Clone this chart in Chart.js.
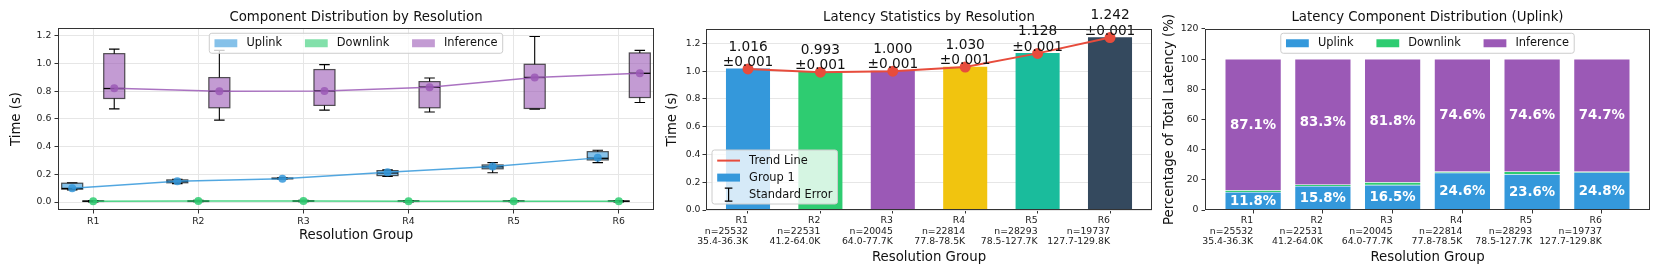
<!DOCTYPE html>
<html><head><meta charset="utf-8">
<script src="https://cdn.jsdelivr.net/npm/chart.js@4.4.1/dist/chart.umd.min.js"></script>
<style>
html,body{margin:0;padding:0;background:#fff;width:1661px;height:267px;overflow:hidden;}
canvas{position:absolute;top:0;}
</style></head><body>
<canvas id="c1" width="660" height="267" style="left:0px"></canvas>
<canvas id="c2" width="500" height="267" style="left:660px"></canvas>
<canvas id="c3" width="501" height="267" style="left:1160px"></canvas>
<script>
// ---------- DATA ----------
const categories = ['R1','R2','R3','R4','R5','R6'];
const sampleCounts = [25532,22531,20045,22814,28293,19737];
const resolutionRanges = ['35.4-36.3K','41.2-64.0K','64.0-77.7K','77.8-78.5K','78.5-127.7K','127.7-129.8K'];

// Panel 1: component distributions (seconds)
const uplinkLow    = [0.088,0.133,0.166,0.184,0.211,0.285];
const uplinkQ1     = [0.093,0.139,0.168,0.191,0.240,0.304];
const uplinkMedian = [0.098,0.148,0.170,0.210,0.255,0.316];
const uplinkQ3     = [0.136,0.160,0.173,0.227,0.268,0.364];
const uplinkHigh   = [0.139,0.165,0.175,0.232,0.285,0.374];
const uplinkMean   = [0.100,0.151,0.168,0.216,0.256,0.319];

const downlinkLow    = [0.001,0.002,0.002,0.001,0.002,0.001];
const downlinkQ1     = [0.004,0.004,0.005,0.004,0.004,0.004];
const downlinkMedian = [0.006,0.006,0.007,0.006,0.006,0.006];
const downlinkQ3     = [0.008,0.009,0.010,0.008,0.008,0.008];
const downlinkHigh   = [0.011,0.012,0.013,0.011,0.011,0.010];
const downlinkMean   = [0.006,0.007,0.007,0.006,0.006,0.006];

const inferenceLow    = [0.673,0.592,0.664,0.650,0.671,0.719];
const inferenceQ1     = [0.748,0.681,0.698,0.681,0.676,0.755];
const inferenceMedian = [0.820,0.800,0.803,0.830,0.900,0.930];
const inferenceQ3     = [1.072,0.899,0.957,0.870,0.995,1.077];
const inferenceHigh   = [1.105,1.096,0.993,0.896,1.196,1.096];
const inferenceMean   = [0.822,0.800,0.803,0.829,0.899,0.930];

// Panel 2: latency statistics
const meanLatency   = [1.016,0.993,1.000,1.030,1.128,1.242];
const latencyStdErr = [0.001,0.001,0.001,0.001,0.001,0.001];

// Panel 3: percentage of total latency
const uplinkPct    = [11.8,15.8,16.5,24.6,23.6,24.8];
const downlinkPct  = [1.1,0.9,1.7,0.8,1.8,0.5];
const inferencePct = [87.1,83.3,81.8,74.6,74.6,74.7];

// Tick values
const timeTicks = [0,0.2,0.4,0.6,0.8,1.0,1.2];
const pctTicks  = [0,20,40,60,80,100,120];

// ---------- STYLE ----------
const FONT = "'DejaVu Sans', sans-serif";
const GRID = '#e6e6e6', SPINE = '#333333', TXT = '#111111';
const C_UP = '#3498db', C_DOWN = '#2ecc71', C_INF = '#9b59b6';
const C_UP_A = 'rgba(52,152,219,0.6)', C_DOWN_A = 'rgba(46,204,113,0.6)', C_INF_A = 'rgba(155,89,182,0.6)';
const barColors = ['#3498db','#2ecc71','#9b59b6','#f1c40f','#1abc9c','#34495e'];

Chart.defaults.font.family = FONT;
Chart.defaults.color = TXT;
Chart.defaults.animation = false;

const tickFont = {size: 9.3, lineHeight: 1.13};
const titleFont = {size: 13.3, weight: 'normal', lineHeight: 1.2};

function setTicks(values){ return s => { s.ticks = values.map(v => ({value: v})); }; }

const framePlugin = {
  id: 'frame',
  afterDatasetsDraw(chart){
    const {ctx, chartArea: a} = chart;
    ctx.save();
    ctx.strokeStyle = SPINE; ctx.lineWidth = 1;
    const l = Math.round(a.left) + 0.5, t = Math.round(a.top) + 0.5;
    const r = Math.round(a.right) - 0.5, b = Math.round(a.bottom) - 0.5;
    ctx.strokeRect(l, t, r - l, b - t);
    ctx.restore();
  }
};

function roundRectPath(ctx, x, y, w, h, r){
  ctx.beginPath();
  ctx.moveTo(x + r, y);
  ctx.lineTo(x + w - r, y); ctx.arcTo(x + w, y, x + w, y + r, r);
  ctx.lineTo(x + w, y + h - r); ctx.arcTo(x + w, y + h, x + w - r, y + h, r);
  ctx.lineTo(x + r, y + h); ctx.arcTo(x, y + h, x, y + h - r, r);
  ctx.lineTo(x, y + r); ctx.arcTo(x, y, x + r, y, r);
  ctx.closePath();
}

function makeLegend(cfg){
  return {
    id: 'customLegend',
    afterDraw(chart){
      const ctx = chart.ctx, a = chart.chartArea;
      const fs = 11.4;
      const hl = 2 * fs, hh = 0.7 * fs, tp = 0.8 * fs, cs = 2 * fs, inset = 5.2;
      ctx.save();
      ctx.font = fs + 'px ' + FONT;
      ctx.textBaseline = 'middle'; ctx.textAlign = 'left';
      const widths = cfg.items.map(it => ctx.measureText(it.label).width);
      const drawHandle = (it, x, cy) => {
        if (it.kind === 'patch') {
          ctx.fillStyle = it.color; ctx.fillRect(x, cy - hh / 2, hl, hh);
        } else if (it.kind === 'line') {
          ctx.strokeStyle = it.color; ctx.lineWidth = 2;
          ctx.beginPath(); ctx.moveTo(x, cy); ctx.lineTo(x + hl, cy); ctx.stroke();
        } else if (it.kind === 'errorbar') {
          const mx = x + hl / 2;
          ctx.strokeStyle = it.color; ctx.lineWidth = 1.2;
          ctx.beginPath();
          ctx.moveTo(mx, cy - 6.5); ctx.lineTo(mx, cy + 6.5);
          ctx.moveTo(mx - 3.8, cy - 6.5); ctx.lineTo(mx + 3.8, cy - 6.5);
          ctx.moveTo(mx - 3.8, cy + 6.5); ctx.lineTo(mx + 3.8, cy + 6.5);
          ctx.stroke();
        }
      };
      let left, top, w, h;
      if (cfg.layout === 'row') {
        w = inset * 2 + cfg.items.reduce((s, it, i) => s + hl + tp + widths[i], 0) + cs * (cfg.items.length - 1);
        h = 20;
        left = (a.left + a.right) / 2 - w / 2;
        top = a.top + cfg.offsetTop;
      } else {
        w = inset * 2 + hl + tp + Math.max(...widths);
        h = 54;
        left = a.left + 6;
        top = a.bottom - 6 - h;
      }
      roundRectPath(ctx, left, top, w, h, 2.5);
      ctx.fillStyle = 'rgba(255,255,255,0.8)'; ctx.fill();
      ctx.strokeStyle = '#cccccc'; ctx.lineWidth = 1; ctx.stroke();
      if (cfg.layout === 'row') {
        let x = left + inset; const cy = top + h / 2;
        cfg.items.forEach((it, i) => {
          drawHandle(it, x, cy);
          ctx.fillStyle = TXT; ctx.fillText(it.label, x + hl + tp, cy);
          x += hl + tp + widths[i] + cs;
        });
      } else {
        cfg.items.forEach((it, i) => {
          const cy = top + 10.6 + i * 17;
          const x = left + inset;
          drawHandle(it, x, cy);
          ctx.fillStyle = TXT; ctx.fillText(it.label, x + hl + tp, cy);
        });
      }
      ctx.restore();
    }
  };
}

// ---------- PANEL 1 ----------
const boxGroups = [
  {offset: -0.2, low: uplinkLow, q1: uplinkQ1, med: uplinkMedian, q3: uplinkQ3, high: uplinkHigh, fill: C_UP_A},
  {offset: 0,    low: downlinkLow, q1: downlinkQ1, med: downlinkMedian, q3: downlinkQ3, high: downlinkHigh, fill: C_DOWN_A},
  {offset: 0.2,  low: inferenceLow, q1: inferenceQ1, med: inferenceMedian, q3: inferenceQ3, high: inferenceHigh, fill: C_INF_A}
];
const boxWidth = 0.2;
const boxPlugin = {
  id: 'boxes',
  beforeDatasetsDraw(chart){
    const {ctx, scales: {x, y}} = chart;
    ctx.save();
    const hw = Math.abs(x.getPixelForValue(boxWidth / 2) - x.getPixelForValue(0));
    boxGroups.forEach(g => {
      g.q1.forEach((_, i) => {
        const cx = x.getPixelForValue(i + g.offset);
        const yq1 = y.getPixelForValue(g.q1[i]), yq3 = y.getPixelForValue(g.q3[i]);
        const ym = y.getPixelForValue(g.med[i]);
        const ylo = y.getPixelForValue(g.low[i]), yhi = y.getPixelForValue(g.high[i]);
        ctx.fillStyle = g.fill;
        ctx.fillRect(cx - hw, yq3, hw * 2, yq1 - yq3);
        ctx.strokeStyle = 'rgba(30,30,30,0.75)'; ctx.lineWidth = 1.2;
        ctx.strokeRect(cx - hw, yq3, hw * 2, yq1 - yq3);
        ctx.strokeStyle = '#000'; ctx.lineWidth = 1.1;
        ctx.beginPath();
        ctx.moveTo(cx, yq3); ctx.lineTo(cx, yhi);
        ctx.moveTo(cx, yq1); ctx.lineTo(cx, ylo);
        ctx.moveTo(cx - hw / 2, yhi); ctx.lineTo(cx + hw / 2, yhi);
        ctx.moveTo(cx - hw / 2, ylo); ctx.lineTo(cx + hw / 2, ylo);
        ctx.stroke();
        ctx.lineWidth = 1.3;
        ctx.beginPath(); ctx.moveTo(cx - hw, ym); ctx.lineTo(cx + hw, ym); ctx.stroke();
      });
    });
    ctx.restore();
  }
};

function meanLine(label, values, offset, color){
  return {
    label, data: values.map((v, i) => ({x: i + offset, y: v})),
    borderColor: color, backgroundColor: color, borderWidth: 1.5, tension: 0,
    pointRadius: 4, pointBackgroundColor: color, pointBorderWidth: 0
  };
}

new Chart(document.getElementById('c1'), {
  type: 'line',
  data: {datasets: [
    meanLine('Uplink', uplinkMean, -0.2, 'rgba(52,152,219,0.85)'),
    meanLine('Downlink', downlinkMean, 0, 'rgba(46,204,113,0.85)'),
    meanLine('Inference', inferenceMean, 0.2, 'rgba(155,89,182,0.85)')
  ]},
  options: {
    responsive: false, animation: false, events: [],
    layout: {autoPadding: false, padding: {left: 0, right: 6, top: 0, bottom: 0}},
    plugins: {
      legend: {display: false}, tooltip: {enabled: false},
      title: {display: true, text: 'Component Distribution by Resolution', fullSize: false, color: TXT, font: titleFont, padding: {top: 9.3, bottom: 2.7}}
    },
    scales: {
      x: {
        type: 'linear', min: -0.335, max: 5.335, offset: false,
        afterBuildTicks: setTicks(categories.map((c, i) => i)),
        afterFit: s => { s.height = 57; },
        ticks: {callback: v => categories[Math.round(v)], font: tickFont, padding: 3, maxRotation: 0, autoSkip: false, color: '#222'},
        grid: {color: GRID, lineWidth: 1, tickLength: 3.5, tickColor: SPINE, offset: false},
        border: {display: false},
        title: {display: true, text: 'Resolution Group', color: TXT, font: titleFont, padding: {top: 23.3, bottom: 23.3}}
      },
      y: {
        min: -0.0576, max: 1.2576,
        afterBuildTicks: setTicks(timeTicks),
        afterFit: s => { s.width = 58; },
        ticks: {callback: v => v.toFixed(1), font: tickFont, padding: 3.2, color: '#222'},
        grid: {color: GRID, lineWidth: 1, tickLength: 3.5, tickColor: SPINE},
        border: {display: false},
        title: {display: true, text: 'Time (s)', color: TXT, font: titleFont, padding: {top: 8.5, bottom: 8.5}}
      }
    }
  },
  plugins: [boxPlugin, framePlugin, makeLegend({layout: 'row', offsetTop: 5.3, items: [
    {kind: 'patch', color: C_UP_A, label: 'Uplink'},
    {kind: 'patch', color: C_DOWN_A, label: 'Downlink'},
    {kind: 'patch', color: C_INF_A, label: 'Inference'}
  ]})]
});

// ---------- PANEL 2 ----------
const errorBarPlugin = {
  id: 'errorBars',
  afterDatasetDraw(chart, args){
    if (args.index !== 1) return;
    const {ctx, scales: {x, y}} = chart;
    ctx.save(); ctx.strokeStyle = '#000'; ctx.lineWidth = 1;
    meanLatency.forEach((v, i) => {
      const cx = x.getPixelForValue(i);
      const y1 = y.getPixelForValue(v - latencyStdErr[i]), y2 = y.getPixelForValue(v + latencyStdErr[i]);
      ctx.beginPath();
      ctx.moveTo(cx, y1); ctx.lineTo(cx, y2);
      ctx.moveTo(cx - 4, y1); ctx.lineTo(cx + 4, y1);
      ctx.moveTo(cx - 4, y2); ctx.lineTo(cx + 4, y2);
      ctx.stroke();
    });
    ctx.restore();
  }
};
const valueLabelPlugin = {
  id: 'valueLabels',
  afterDatasetsDraw(chart){
    const {ctx, scales: {x, y}} = chart;
    ctx.save();
    ctx.font = '13.7px ' + FONT; ctx.fillStyle = TXT;
    ctx.textAlign = 'center'; ctx.textBaseline = 'alphabetic';
    meanLatency.forEach((v, i) => {
      const cx = x.getPixelForValue(i);
      const yb = y.getPixelForValue(v + latencyStdErr[i]) - 2.6;
      ctx.fillText('±' + latencyStdErr[i].toFixed(3), cx, yb);
      ctx.fillText(v.toFixed(3), cx, yb - 15.6);
    });
    ctx.restore();
  }
};

new Chart(document.getElementById('c2'), {
  type: 'bar',
  data: {datasets: [
    {type: 'line', label: 'Trend Line', data: meanLatency.map((v, i) => ({x: i, y: v})),
     borderColor: '#e74c3c', backgroundColor: '#e74c3c', borderWidth: 2, tension: 0,
     pointRadius: 5.5, pointBackgroundColor: '#e74c3c', pointBorderWidth: 0, order: 0},
    {type: 'bar', label: 'Group 1', data: meanLatency.map((v, i) => ({x: i, y: v})),
     backgroundColor: barColors, borderWidth: 0, barThickness: 43.4, order: 1}
  ]},
  options: {
    responsive: false, animation: false, events: [],
    layout: {autoPadding: false, padding: {left: 0, right: 8, top: 0, bottom: 0}},
    plugins: {
      legend: {display: false}, tooltip: {enabled: false},
      title: {display: true, text: 'Latency Statistics by Resolution', fullSize: false, color: TXT, font: titleFont, padding: {top: 9.3, bottom: 3.7}}
    },
    scales: {
      x: {
        type: 'linear', min: -0.58, max: 5.58, offset: false,
        afterBuildTicks: setTicks(categories.map((c, i) => i)),
        afterFit: s => { s.height = 57; },
        ticks: {callback: v => { const i = Math.round(v); return [categories[i], 'n=' + sampleCounts[i], resolutionRanges[i]]; },
                align: 'end', font: tickFont, padding: 2, maxRotation: 0, autoSkip: false, color: '#222'},
        grid: {drawOnChartArea: false, tickLength: 3.5, tickColor: SPINE, offset: false},
        border: {display: false},
        title: {display: true, text: 'Resolution Group', color: TXT, font: titleFont, padding: {top: 1.7, bottom: 1.7}}
      },
      y: {
        min: 0, max: 1.304,
        afterBuildTicks: setTicks(timeTicks),
        afterFit: s => { s.width = 46; },
        ticks: {callback: v => v.toFixed(1), font: tickFont, padding: 2, color: '#222'},
        grid: {color: GRID, lineWidth: 1, tickLength: 3.5, tickColor: SPINE},
        border: {display: false},
        title: {display: true, text: 'Time (s)', color: TXT, font: titleFont, padding: {top: 5, bottom: 5}}
      }
    }
  },
  plugins: [errorBarPlugin, valueLabelPlugin, framePlugin, makeLegend({layout: 'column', items: [
    {kind: 'line', color: '#e74c3c', label: 'Trend Line'},
    {kind: 'patch', color: '#3498db', label: 'Group 1'},
    {kind: 'errorbar', color: '#000', label: 'Standard Error'}
  ]})]
});

// ---------- PANEL 3 ----------
const pctLabelPlugin = {
  id: 'pctLabels',
  afterDatasetsDraw(chart){
    const ctx = chart.ctx;
    ctx.save();
    ctx.font = 'bold 13.3px ' + FONT; ctx.fillStyle = '#ffffff';
    ctx.textAlign = 'center'; ctx.textBaseline = 'middle';
    [[0, uplinkPct], [2, inferencePct]].forEach(([di, vals]) => {
      chart.getDatasetMeta(di).data.forEach((el, i) => {
        const p = el.getProps(['x', 'y', 'base'], true);
        ctx.fillText(vals[i].toFixed(1) + '%', p.x, (p.y + p.base) / 2 + 0.5);
      });
    });
    ctx.restore();
  }
};
function pctDs(label, values, color){
  return {label, data: values.map((v, i) => ({x: i, y: v})), backgroundColor: color,
          borderColor: 'rgba(255,255,255,0.6)', borderWidth: 0.6, borderSkipped: false, barThickness: 55.8};
}
new Chart(document.getElementById('c3'), {
  type: 'bar',
  data: {datasets: [
    pctDs('Uplink', uplinkPct, C_UP),
    pctDs('Downlink', downlinkPct, C_DOWN),
    pctDs('Inference', inferencePct, C_INF)
  ]},
  options: {
    responsive: false, animation: false, events: [],
    layout: {autoPadding: false, padding: {left: 0, right: 11, top: 0, bottom: 0}},
    plugins: {
      legend: {display: false}, tooltip: {enabled: false},
      title: {display: true, text: 'Latency Component Distribution (Uplink)', fullSize: false, color: TXT, font: titleFont, padding: {top: 9.3, bottom: 3.7}}
    },
    scales: {
      x: {
        type: 'linear', min: -0.69, max: 5.69, offset: false, stacked: true,
        afterBuildTicks: setTicks(categories.map((c, i) => i)),
        afterFit: s => { s.height = 57; },
        ticks: {callback: v => { const i = Math.round(v); return [categories[i], 'n=' + sampleCounts[i], resolutionRanges[i]]; },
                align: 'end', font: tickFont, padding: 2, maxRotation: 0, autoSkip: false, color: '#222'},
        grid: {drawOnChartArea: false, tickLength: 3.5, tickColor: SPINE, offset: false},
        border: {display: false},
        title: {display: true, text: 'Resolution Group', color: TXT, font: titleFont, padding: {top: 1.7, bottom: 1.7}}
      },
      y: {
        min: 0, max: 120, stacked: true,
        afterBuildTicks: setTicks(pctTicks),
        afterFit: s => { s.width = 45; },
        ticks: {callback: v => String(v), font: tickFont, padding: 3, color: '#222'},
        grid: {drawOnChartArea: false, tickLength: 3.5, tickColor: SPINE},
        border: {display: false},
        title: {display: true, text: 'Percentage of Total Latency (%)', color: TXT, font: titleFont, padding: {top: 2, bottom: 2}}
      }
    }
  },
  plugins: [pctLabelPlugin, framePlugin, makeLegend({layout: 'row', offsetTop: 4.3, items: [
    {kind: 'patch', color: C_UP, label: 'Uplink'},
    {kind: 'patch', color: C_DOWN, label: 'Downlink'},
    {kind: 'patch', color: C_INF, label: 'Inference'}
  ]})]
});
</script>
</body></html>
